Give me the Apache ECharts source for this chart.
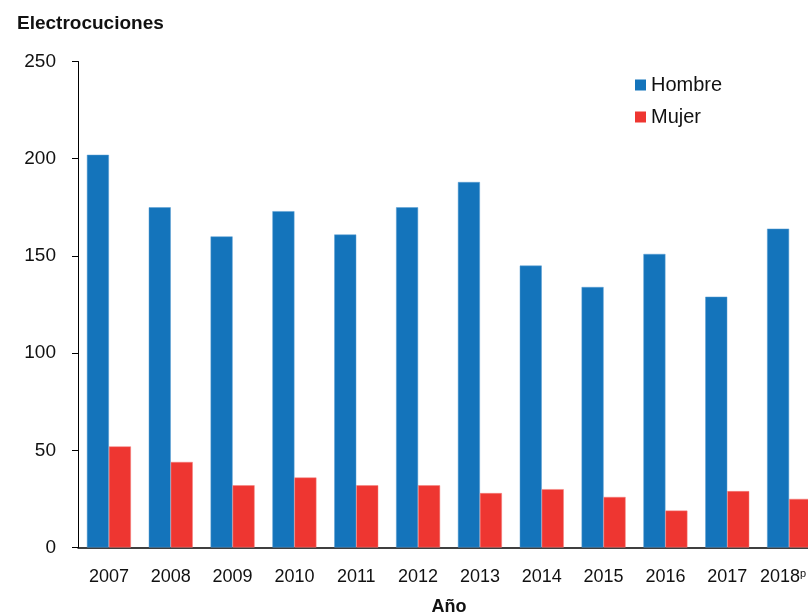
<!DOCTYPE html>
<html>
<head>
<meta charset="utf-8">
<script src="https://cdn.jsdelivr.net/npm/echarts@6/dist/echarts.min.js"></script>
<style>
	html, body { margin: 0; padding: 0; background: #fff; }
	#chart { width: 808px; height: 616px; }
</style>
</head>
<body>
<div id="chart"></div>
<script>
// años (2018 preliminar)
var years = ['2007', '2008', '2009', '2010', '2011', '2012', '2013', '2014', '2015', '2016', '2017', '2018'];
var hombre = [202, 175, 160, 173, 161, 175, 188, 145, 134, 151, 129, 164];
var mujer = [52, 44, 32, 36, 32, 32, 28, 30, 26, 19, 29, 25];
var yTicks = [0, 50, 100, 150, 200, 250];

var FONT = '"Liberation Sans", Arial, Helvetica, sans-serif';
var BLUE = '#1474bb';
var RED = '#ee3631';

var myChart = echarts.init(document.getElementById('chart'));

var option = {
	backgroundColor: '#fff',
	animation: false,
	textStyle: { fontFamily: FONT },
	title: {
		text: 'Electrocuciones',
		left: 12,
		top: 9,
		textStyle: { fontFamily: FONT, fontSize: 19, fontWeight: 600, color: '#111' }
	},
	legend: {
		orient: 'vertical',
		left: 630,
		top: 70,
		itemWidth: 11,
		itemHeight: 11,
		itemGap: 12,
		icon: 'rect',
		itemStyle: { borderWidth: 0 },
		textStyle: { fontFamily: FONT, fontSize: 20, color: '#111' },
		data: ['Hombre', 'Mujer']
	},
	grid: {
		left: 78,
		right: -12,
		top: 61.5,
		bottom: 68.5,
		containLabel: false,
		outerBoundsMode: 'none'
	},
	xAxis: {
		type: 'category',
		data: years,
		name: 'Año',
		nameLocation: 'middle',
		nameGap: 51,
		nameTextStyle: { fontFamily: FONT, fontSize: 18, fontWeight: 600, color: '#111' },
		axisLine: { lineStyle: { color: '#000', width: 1.5 } },
		axisTick: { alignWithLabel: true, length: 5, lineStyle: { color: '#000', width: 1 } },
		axisLabel: {
			interval: 0,
			hideOverlap: false,
			margin: 21,
			fontSize: 18,
			color: '#111',
			fontFamily: FONT,
			formatter: function (v) {
				// el último año es preliminar; se corre a la izquierda para que quepa
				return v === '2018' ? '2018{p|p}' : v;
			},
			rich: { p: { fontSize: 11, verticalAlign: 'top', padding: [0, 12, 6, 0], color: '#111', fontFamily: FONT } }
		}
	},
	yAxis: {
		type: 'value',
		min: yTicks[0],
		max: yTicks[yTicks.length - 1],
		interval: 50,
		splitLine: { show: false },
		axisLine: { show: true, lineStyle: { color: '#000', width: 1 } },
		axisTick: { show: true, length: 6, lineStyle: { color: '#000', width: 1 } },
		axisLabel: { margin: 22, fontSize: 19, color: '#111', fontFamily: FONT }
	},
	series: [
		{
			name: 'Hombre',
			type: 'bar',
			data: hombre,
			barWidth: 22,
			barGap: '0%',
			itemStyle: { color: BLUE, borderColor: '#5b9fd3', borderWidth: 0.5 }
		},
		{
			name: 'Mujer',
			type: 'bar',
			data: mujer,
			barWidth: 22,
			barGap: '0%',
			itemStyle: { color: RED, borderColor: '#f4837f', borderWidth: 0.5 }
		}
	]
};

myChart.setOption(option);
</script>
</body>
</html>
